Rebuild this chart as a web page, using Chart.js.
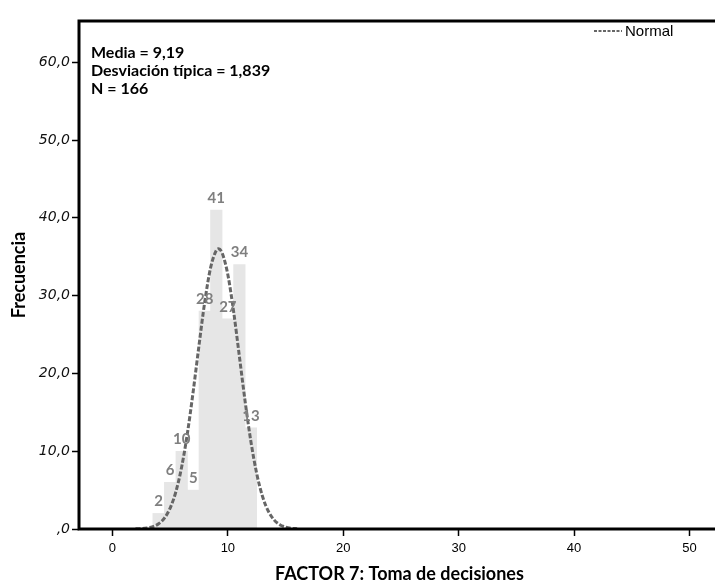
<!DOCTYPE html>
<html>
<head>
<meta charset="utf-8">
<script src="https://cdn.jsdelivr.net/npm/chart.js@4"></script>
<style>
  html, body { margin: 0; padding: 0; background: #fff; overflow: hidden; }
  #wrap { width: 715px; height: 583px; overflow: hidden; }
</style>
</head>
<body>
<div id="wrap"><canvas id="histo" width="720" height="583"></canvas></div>
<script>
// Histograma FACTOR 7

var binCenters = [4, 5, 6, 7, 8, 9, 10, 11, 12];
var binCounts = [2, 6, 10, 5, 28, 41, 27, 34, 13];

// curva normal (media 9,19 / dt 1,839 / N 166)
var normalX = [2, 3, 3.5, 4, 4.5, 5, 5.5, 6, 6.5, 7, 7.5, 8, 8.5, 9, 9.19, 9.5, 10, 10.5, 11, 11.5, 12, 12.5, 13, 13.5, 14, 14.5, 15, 15.5, 16];
var normalY = [0.02, 0.13, 0.30, 0.67, 1.39, 2.69, 4.81, 8.00, 12.35, 17.72, 23.61, 29.21, 33.56, 35.82, 36.01, 35.50, 32.68, 27.94, 22.18, 16.36, 11.21, 7.13, 4.21, 2.31, 1.18, 0.56, 0.25, 0.10, 0.04];

var xTicks = [0, 10, 20, 30, 40, 50];
var yTicks = [0, 10, 20, 30, 40, 50, 60];
var yTickLabels = [',0', '10,0', '20,0', '30,0', '40,0', '50,0', '60,0'];

var statsLines = ['Media = 9,19', 'Desviación típica = 1,839', 'N = 166'];

var barData = binCenters.map(function (c, i) { return { x: c, y: binCounts[i] }; });
var curveData = normalX.map(function (x, i) { return { x: x, y: normalY[i] }; });

var frameAndLabels = {
  id: 'frameAndLabels',
  afterDatasetsDraw: function (chart) {
    var ctx = chart.ctx;
    // etiquetas de frecuencia encima de las barras
    var meta = chart.getDatasetMeta(0);
    ctx.save();
    ctx.fillStyle = '#7f7f7f';
    ctx.font = 'bold 15px Lato, "Liberation Sans", sans-serif';
    ctx.textAlign = 'center';
    ctx.textBaseline = 'middle';
    meta.data.forEach(function (bar, i) {
      ctx.fillText(String(binCounts[i]), bar.x, bar.y - 12);
    });
    ctx.restore();
  },
  afterDraw: function (chart) {
    var ctx = chart.ctx, a = chart.chartArea;
    ctx.save();
    // marco
    ctx.strokeStyle = '#000';
    ctx.lineWidth = 3;
    ctx.strokeRect(a.left, a.top, a.right - a.left + 10, a.bottom - a.top);
    // estadisticos
    ctx.fillStyle = '#000';
    ctx.font = 'bold 16px Lato, "Liberation Sans", sans-serif';
    ctx.textAlign = 'left';
    ctx.textBaseline = 'middle';
    statsLines.forEach(function (s, i) {
      ctx.fillText(s, 91, 53 + i * 18);
    });
    // leyenda
    ctx.strokeStyle = '#666';
    ctx.lineWidth = 2;
    ctx.setLineDash([3, 1.5]);
    ctx.beginPath();
    ctx.moveTo(594, 31);
    ctx.lineTo(622, 31);
    ctx.stroke();
    ctx.setLineDash([]);
    ctx.fillStyle = '#000';
    ctx.font = '15px "Liberation Sans", Arial, sans-serif';
    ctx.fillText('Normal', 625, 32);
    ctx.restore();
  }
};

new Chart(document.getElementById('histo'), {
  data: {
    datasets: [
      {
        type: 'bar',
        label: 'Frecuencia',
        data: barData,
        backgroundColor: '#e6e6e6',
        borderWidth: 0,
        barPercentage: 1.0,
        categoryPercentage: 1.0,
        order: 2
      },
      {
        type: 'line',
        label: 'Normal',
        data: curveData,
        borderColor: '#666',
        borderWidth: 3,
        borderDash: [5, 2],
        pointRadius: 0,
        fill: false,
        cubicInterpolationMode: 'monotone',
        order: 1
      }
    ]
  },
  options: {
    responsive: false,
    animation: false,
    layout: { padding: { top: 21, right: 0, left: 0, bottom: 0 } },
    plugins: { legend: { display: false }, tooltip: { enabled: false } },
    scales: {
      x: {
        type: 'linear',
        offset: false,
        min: -2.9,
        max: 52.65,
        afterBuildTicks: function (s) { s.ticks = xTicks.map(function (v) { return { value: v }; }); },
        afterFit: function (s) { s.height = 54; },
        grid: { display: true, offset: false, drawOnChartArea: false, drawTicks: true, tickLength: 7, tickColor: '#000', tickWidth: 1.5 },
        border: { display: false },
        ticks: { color: '#000', padding: 5, font: { family: '"Liberation Sans", Arial, sans-serif', size: 13 } },
        title: {
          display: true,
          text: 'FACTOR 7: Toma de decisiones',
          color: '#000',
          font: { family: 'Lato, "Liberation Sans", sans-serif', size: 18, weight: 'bold', lineHeight: 1 },
          padding: { top: 0, bottom: 0 }
        }
      },
      y: {
        type: 'linear',
        min: 0,
        max: 65.3,
        afterBuildTicks: function (s) { s.ticks = yTicks.map(function (v) { return { value: v }; }); },
        afterFit: function (s) { s.width = 79; },
        grid: { display: true, drawOnChartArea: false, drawTicks: true, tickLength: 7, tickColor: '#000', tickWidth: 1.5 },
        border: { display: false },
        ticks: {
          color: '#111',
          padding: 2,
          font: { family: '"DejaVu Sans", sans-serif', size: 14, style: 'italic' },
          callback: function (v) {
            var k = yTicks.indexOf(v);
            return k >= 0 ? yTickLabels[k] : '';
          }
        },
        title: {
          display: true,
          text: 'Frecuencia',
          color: '#000',
          font: { family: 'Lato, "Liberation Sans", sans-serif', size: 18, weight: 'bold' },
          padding: { top: 8, bottom: 4 }
        }
      }
    }
  },
  plugins: [frameAndLabels]
});
</script>
</body>
</html>
